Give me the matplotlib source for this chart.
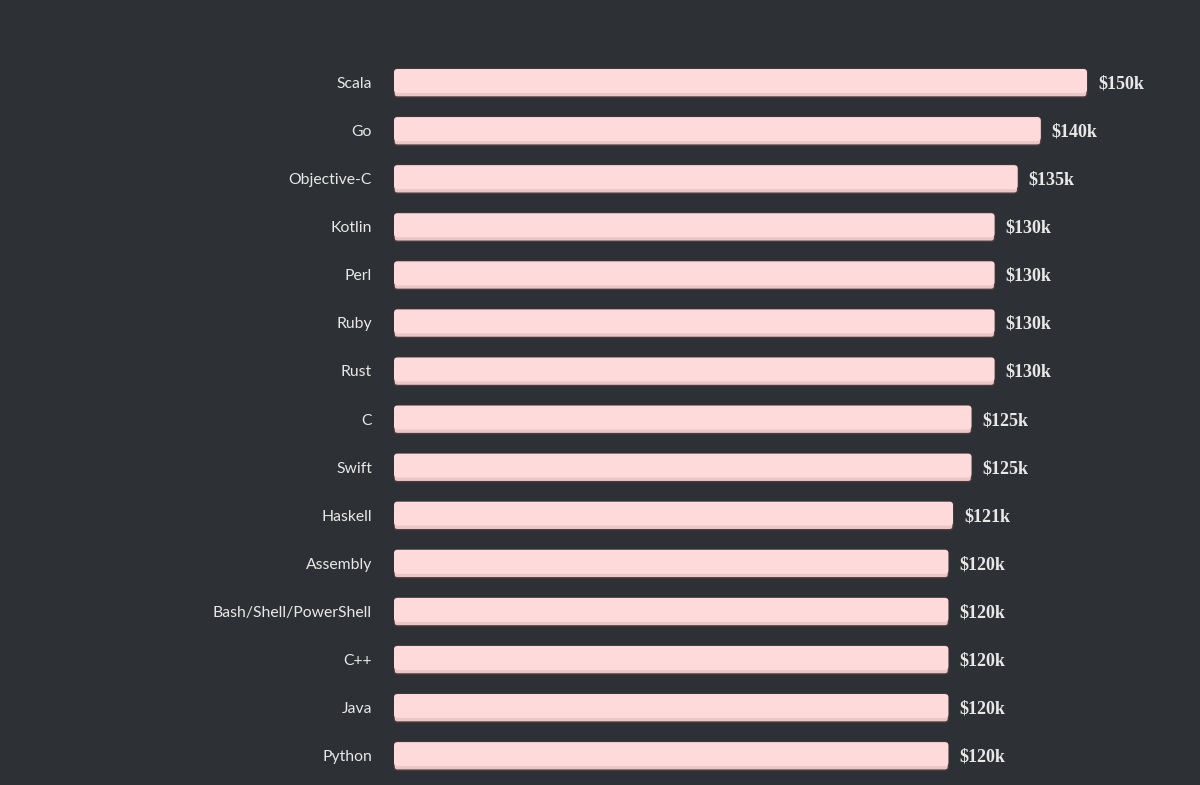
import matplotlib.pyplot as plt
from matplotlib.patches import FancyBboxPatch

languages = ["Scala", "Go", "Objective-C", "Kotlin", "Perl", "Ruby", "Rust", "C",
             "Swift", "Haskell", "Assembly", "Bash/Shell/PowerShell", "C++", "Java", "Python"]
salary_k = [150, 140, 135, 130, 130, 130, 130, 125, 125, 121, 120, 120, 120, 120, 120]
labels = ["$150k", "$140k", "$135k", "$130k", "$130k", "$130k", "$130k", "$125k",
          "$125k", "$121k", "$120k", "$120k", "$120k", "$120k", "$120k"]

bg = "#2d3034"
bar_col = "#ffdada"
band_col = "#ecc6c7"
txt = "#e8e8e8"

fig = plt.figure(figsize=(12, 7.85), dpi=100, facecolor=bg)
# axes start where the bars start (x=394px) and fill the height
ax = fig.add_axes([394 / 1200, 0, 1 - 394 / 1200, 1])
ax.set_facecolor(bg)

px_x = 4.62          # pixels per $1k
px_y = 48.08         # pixels per row
ax.set_xlim(0, 806 / px_x)
ax.set_ylim((785 - 83) / px_y, -83 / px_y)

h = 28 / px_y
band = 4 / px_y
r = 3.5 / px_x
for i, (v, lab) in enumerate(zip(salary_k, labels)):
    y0 = i - h / 2
    # dark outline + lower band
    ax.add_patch(FancyBboxPatch((0, y0), v, h, boxstyle=f"round,pad=0,rounding_size={r}",
                                mutation_aspect=px_x / px_y, fc=band_col,
                                ec="#4a3c3e", lw=1.0, zorder=2))
    ax.add_patch(FancyBboxPatch((0, y0), v, h - band, boxstyle=f"round,pad=0,rounding_size={r}",
                                mutation_aspect=px_x / px_y, fc=bar_col,
                                ec="none", zorder=3))
    ax.text(v + 11 / px_x, i + 0.02, lab, va="center", ha="left", color=txt,
            fontsize=13, fontweight="bold", family=["Liberation Serif", "DejaVu Serif"])
    ax.text(-22 / px_x, i + 0.02, languages[i], va="center", ha="right", color=txt,
            fontsize=11.3, family=["Lato", "DejaVu Sans"], clip_on=False)

ax.axis("off")
fig.savefig("out.png", dpi=100, facecolor=bg)
